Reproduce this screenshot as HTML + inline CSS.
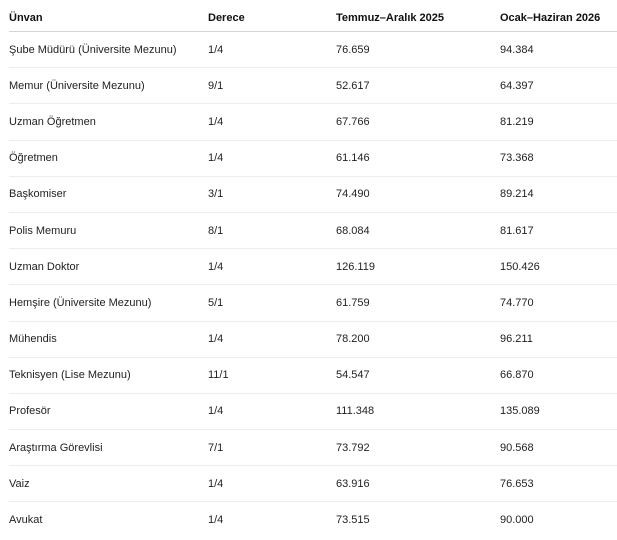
<!DOCTYPE html>
<html><head><meta charset="utf-8"><style>
html,body{margin:0;padding:0;background:#fff;width:617px;height:540px;overflow:hidden}
table{position:absolute;left:9px;top:0;width:608px;border-collapse:collapse;font-family:"Liberation Sans",sans-serif;font-size:11px;color:#1f1f1f}
td,th{padding:0;text-align:left;vertical-align:middle}
th{height:26px;padding-top:5px;font-weight:bold;border-bottom:1px solid #d4d4d4;color:#111}
td{height:35.2px;border-bottom:1px solid #ececec}
tr:last-child td{border-bottom:none}
.c1{width:199px}.c2{width:128px}.c3{width:164px}
</style></head><body>
<table>
<tr><th class="c1">Ünvan</th><th class="c2">Derece</th><th class="c3">Temmuz–Aralık 2025</th><th>Ocak–Haziran 2026</th></tr>
<tr><td>Şube Müdürü (Üniversite Mezunu)</td><td>1/4</td><td>76.659</td><td>94.384</td></tr>
<tr><td>Memur (Üniversite Mezunu)</td><td>9/1</td><td>52.617</td><td>64.397</td></tr>
<tr><td>Uzman Öğretmen</td><td>1/4</td><td>67.766</td><td>81.219</td></tr>
<tr><td>Öğretmen</td><td>1/4</td><td>61.146</td><td>73.368</td></tr>
<tr><td>Başkomiser</td><td>3/1</td><td>74.490</td><td>89.214</td></tr>
<tr><td>Polis Memuru</td><td>8/1</td><td>68.084</td><td>81.617</td></tr>
<tr><td>Uzman Doktor</td><td>1/4</td><td>126.119</td><td>150.426</td></tr>
<tr><td>Hemşire (Üniversite Mezunu)</td><td>5/1</td><td>61.759</td><td>74.770</td></tr>
<tr><td>Mühendis</td><td>1/4</td><td>78.200</td><td>96.211</td></tr>
<tr><td>Teknisyen (Lise Mezunu)</td><td>11/1</td><td>54.547</td><td>66.870</td></tr>
<tr><td>Profesör</td><td>1/4</td><td>111.348</td><td>135.089</td></tr>
<tr><td>Araştırma Görevlisi</td><td>7/1</td><td>73.792</td><td>90.568</td></tr>
<tr><td>Vaiz</td><td>1/4</td><td>63.916</td><td>76.653</td></tr>
<tr><td>Avukat</td><td>1/4</td><td>73.515</td><td>90.000</td></tr>
</table>
</body></html>
